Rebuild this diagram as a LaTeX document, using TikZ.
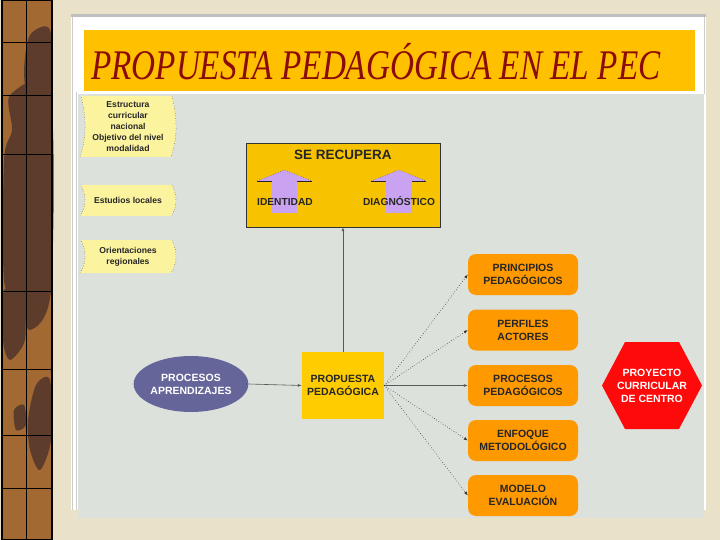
\documentclass[tikz,border=0pt]{standalone}
\usepackage{fontspec}
\setmainfont{Liberation Sans}
\newfontfamily\titlefont{Liberation Serif}
\usetikzlibrary{shapes.geometric,arrows.meta}
\definecolor{cream}{HTML}{E9E2C8}
\definecolor{stripbrown}{HTML}{A26A32}
\definecolor{stripdark}{HTML}{5E3C2C}
\definecolor{panelgrey}{HTML}{DCE1DC}
\definecolor{titlegold}{HTML}{FFC000}
\definecolor{titlered}{HTML}{8B0A0A}
\definecolor{bannery}{HTML}{FBF39E}
\definecolor{recgold}{HTML}{F7C300}
\definecolor{propgold}{HTML}{FFCC00}
\definecolor{lavender}{HTML}{C9A3F2}
\definecolor{slate}{HTML}{65659A}
\definecolor{orangebox}{HTML}{FF9900}
\definecolor{hexred}{HTML}{FF0A0A}
\tikzset{
  bannertext/.style={font=\bfseries\fontsize{8.6}{10.8}\selectfont, align=center, text=black!85},
  bannerfill/.style={fill=bannery},
  banneredge/.style={draw=black!70, dotted, line width=0.5pt},
  label/.style={font=\bfseries\fontsize{10.5}{12.5}\selectfont, align=center, text=black!85},
  obox/.style={fill=orangebox, rounded corners=8pt, minimum width=110pt, minimum height=41pt, inner sep=0pt,
     font=\bfseries\fontsize{10.5}{12.8}\selectfont, align=center, text=black!85},
  conn/.style={draw=black!65, line width=0.6pt, -{Latex[length=4pt,width=3pt]}},
  dotconn/.style={draw=black!80, dotted, line width=0.6pt, -{Latex[length=4pt,width=3pt]}},
  uparrow/.style={fill=lavender},
}
\newcommand\mybanner[4]{%
  \fill[bannerfill] (#1,#2) -- (#3,#2) .. controls (#3+6,{#2+0.4*(#4-#2)}) and (#3+5,{#2+0.7*(#4-#2)}) .. (#3-1,#4)
     -- (#1-1,#4) .. controls (#1+5,{#2+0.7*(#4-#2)}) and (#1+6,{#2+0.4*(#4-#2)}) .. cycle;
  \draw[banneredge] (#3,#2) .. controls (#3+6,{#2+0.4*(#4-#2)}) and (#3+5,{#2+0.7*(#4-#2)}) .. (#3-1,#4);
  \draw[banneredge] (#1-1,#4) .. controls (#1+5,{#2+0.7*(#4-#2)}) and (#1+6,{#2+0.4*(#4-#2)}) .. (#1,#2);
}
\begin{document}
\begin{tikzpicture}[x=1pt,y=-1pt]
\useasboundingbox (0,0) rectangle (720,540);
\fill[cream] (0,0) rectangle (720,540);
% left decorative strip
\fill[stripbrown] (2,0) rectangle (52,540);
\fill[stripdark] plot[smooth cycle] coordinates {(30,35)(50,30)(51,95)(40,120)(28,100)(24,70)};
\fill[stripdark] plot[smooth cycle] coordinates {(10,95)(50,92)(51,290)(30,330)(18,300)(4,280)(4,160)(12,130)};
\fill[stripdark] plot[smooth cycle] coordinates {(4,290)(22,300)(25,340)(10,360)(3,340)};
\fill[stripdark] plot[smooth cycle] coordinates {(36,385)(50,380)(51,440)(40,470)(30,450)(28,420)};
\fill[stripdark] plot[smooth cycle] coordinates {(14,410)(24,405)(26,425)(16,430)};
\draw[line width=1.3pt] (2,0.6) rectangle (52,539.4);
\draw[line width=0.6pt] (26,0) -- (26,540);
\foreach \yy in {42,95,154,291,369,435,488}
  \draw[line width=0.6pt] (2,\yy) -- (52,\yy);
% slide frame
\fill[white] (71,16) rectangle (706,510);
\draw[black!25, line width=3pt] (71,16) -- (706,16);
\draw[black!20, line width=1pt] (72,17) -- (72,510);
\draw[black!20, line width=1pt] (76,92) -- (76,510);
\draw[black!20, line width=1pt] (704,17) -- (704,94);
\fill[panelgrey] (78,94) rectangle (704,518);
\fill[titlegold] (84,30) rectangle (695,91);
\node[anchor=west, inner sep=0pt, text=titlered, font=\titlefont\itshape\fontsize{33.2}{36}\selectfont] (title) at (91,62)
  {\scalebox{1}[1.27]{PROPUESTA PEDAGÓGICA EN EL PEC}};
% left banners
\mybanner{81}{96}{172}{157}
\mybanner{81}{185}{172}{216}
\mybanner{81}{240}{172}{273}
\node[bannertext] (estr) at (128,126.5) {Estructura\\curricular\\nacional\\Objetivo del nivel\\modalidad};
\node[bannertext] (estu) at (128,200.5) {Estudios locales};
\node[bannertext] (orie) at (128,256.5) {Orientaciones\\regionales};
% SE RECUPERA
\node[draw=black!80, line width=0.5pt, fill=recgold, minimum width=194pt, minimum height=84pt, inner sep=0pt] (serec) at (343,185) {};
\node[font=\bfseries\fontsize{13.5}{15}\selectfont, text=black!85] (sertitle) at (343,155) {SE RECUPERA};
\fill[uparrow] (272,181) rectangle (297,213);
\fill[uparrow] (257,181) -- (284.5,170) -- (312,181) -- cycle;
\draw[black!70, dotted, line width=0.5pt] (257,181) -- (284.5,170) -- (312,181);
\draw[black!85, line width=0.6pt] (257,181) -- (272,181) (297,181) -- (312,181);
\fill[uparrow] (386,181) rectangle (412,213);
\fill[uparrow] (371,181) -- (399,170) -- (426,181) -- cycle;
\draw[black!70, dotted, line width=0.5pt] (371,181) -- (399,170) -- (426,181);
\draw[black!85, line width=0.6pt] (371,181) -- (386,181) (412,181) -- (426,181);
\node[label, font=\bfseries\fontsize{10.2}{12}\selectfont] (ident) at (285,201.5) {IDENTIDAD};
\node[label, font=\bfseries\fontsize{10.2}{12}\selectfont] (diag) at (399,201.5) {DIAGNÓSTICO};
% central
\node[fill=propgold, minimum width=82pt, minimum height=67pt, inner sep=0pt, label, font=\bfseries\fontsize{10.5}{13}\selectfont] (prop) at (343,385.5) {PROPUESTA\\PEDAGÓGICA};
\node[ellipse, fill=slate, minimum width=110pt, minimum height=56pt, inner sep=0pt, text=white, align=center,
  font=\bfseries\fontsize{10.5}{13}\selectfont] (ell) at (191,384) {PROCESOS\\APRENDIZAJES};
% right boxes
\node[obox] (pri) at (523,274.5) {PRINCIPIOS\\PEDAGÓGICOS};
\node[obox] (per) at (523,330) {PERFILES\\ACTORES};
\node[obox] (ped) at (523,385.5) {PROCESOS\\PEDAGÓGICOS};
\node[obox] (enf) at (523,440.5) {ENFOQUE\\METODOLÓGICO};
\node[obox] (mod) at (523,495.5) {MODELO\\EVALUACIÓN};
\fill[hexred] (602,385.5) -- (625,342) -- (679,342) -- (702,385.5) -- (679,429) -- (625,429) -- cycle;
\node[text=white, align=center, inner sep=0pt,
  font=\bfseries\fontsize{10.5}{13}\selectfont] (pcc) at (652,385.5) {PROYECTO\\CURRICULAR\\DE CENTRO};
% connectors
\draw[conn] (ell.east) -- (prop.west);
\draw[conn] (prop.north) -- (serec.south);
\draw[conn] (prop.east) -- (ped.west);
\draw[dotconn] (prop.east) -- (pri.west);
\draw[dotconn] (prop.east) -- (per.west);
\draw[dotconn] (prop.east) -- (enf.west);
\draw[dotconn] (prop.east) -- (mod.west);
\end{tikzpicture}
\end{document}
